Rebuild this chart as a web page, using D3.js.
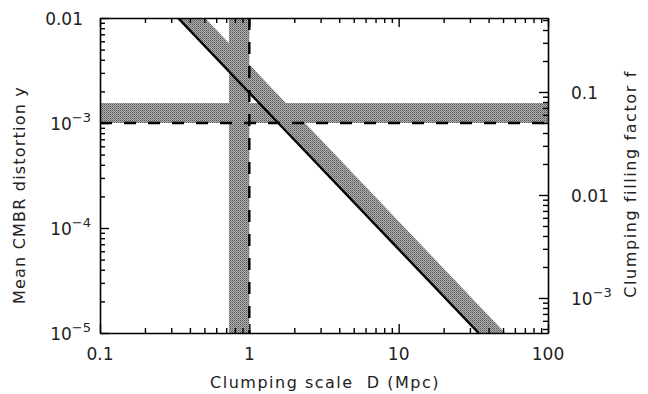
<!DOCTYPE html>
<html>
<head>
<meta charset="utf-8">
<title>Clumping scale vs CMBR distortion</title>
<script src="https://d3js.org/d3.v7.min.js"></script>
<style>
  body { margin: 0; background: #fff; }
  svg text { font-family: "DejaVu Sans", "Liberation Sans", sans-serif; fill: #222; }
</style>
</head>
<body>
<div id="chart"></div>
<script>
// axis ranges
var xDomain = [0.1, 100];
var yDomain = [1e-5, 0.01];
var fDomain = [4.57e-4, 0.523];

// tick labels
var xTicks = [0.1, 1, 10, 100];
var xTickLabels = ["0.1", "1", "10", "100"];
var yTicks = [0.01, 1e-3, 1e-4, 1e-5];
var yTickLabels = [["0.01", ""], ["10", "\u22123"], ["10", "\u22124"], ["10", "\u22125"]];
var fTicks = [0.1, 0.01, 1e-3];
var fTickLabels = [["0.1", ""], ["0.01", ""], ["10", "\u22123"]];

// constraint bands
var yBand = [1e-3, 1.55e-3];          // horizontal band, dashed at lower edge
var dBand = [0.73, 1.0];              // vertical band, dashed at right edge
var diagLine = [[0.333, 0.01], [34.3, 1e-5]];   // solid line
var diagEdge = [[0.505, 0.01], [51.6, 1e-5]];   // far edge of diagonal band

var width = 648, height = 394;
var pL = 100, pR = 548, pT = 18, pB = 333;

var svg = d3.select("#chart").append("svg")
  .attr("width", width)
  .attr("height", height);

var x = d3.scaleLog().domain(xDomain).range([pL, pR]);
var y = d3.scaleLog().domain(yDomain).range([pB, pT]);
var yf = d3.scaleLog().domain(fDomain).range([pB, pT]);

var defs = svg.append("defs");
defs.append("clipPath").attr("id", "clip")
  .append("rect")
  .attr("x", pL).attr("y", pT)
  .attr("width", pR - pL).attr("height", pB - pT);

// halftone-ish shading like the printed figure
var pat = defs.append("pattern").attr("id", "dots")
  .attr("width", 2).attr("height", 2)
  .attr("patternUnits", "userSpaceOnUse");
pat.append("rect").attr("width", 2).attr("height", 2).attr("fill", "#b2b2b2");
pat.append("rect").attr("width", 1).attr("height", 1).attr("fill", "#555");
pat.append("rect").attr("x", 1).attr("y", 1).attr("width", 1).attr("height", 1).attr("fill", "#7a7a7a");

var shade = "url(#dots)";
var g = svg.append("g").attr("clip-path", "url(#clip)");

// horizontal band
g.append("rect")
  .attr("x", x(xDomain[0]))
  .attr("y", y(yBand[1]))
  .attr("width", x(xDomain[1]) - x(xDomain[0]))
  .attr("height", y(yBand[0]) - y(yBand[1]))
  .attr("fill", shade);

// vertical band
g.append("rect")
  .attr("x", x(dBand[0]))
  .attr("y", y(yDomain[1]))
  .attr("width", x(dBand[1]) - x(dBand[0]))
  .attr("height", y(yDomain[0]) - y(yDomain[1]))
  .attr("fill", shade);

// diagonal band
var line = d3.line().x(function(d) { return x(d[0]); }).y(function(d) { return y(d[1]); });
var poly = diagLine.concat(diagEdge.slice().reverse());
g.append("path")
  .attr("d", line(poly) + "Z")
  .attr("fill", shade);

g.append("path")
  .attr("d", line(diagLine))
  .attr("fill", "none")
  .attr("stroke", "#000")
  .attr("stroke-width", 2.4);

// dashed lines
g.append("line")
  .attr("x1", x(xDomain[0])).attr("x2", x(xDomain[1]))
  .attr("y1", y(yBand[0])).attr("y2", y(yBand[0]))
  .attr("stroke", "#000").attr("stroke-width", 2.4)
  .attr("stroke-dasharray", "12,12");

g.append("line")
  .attr("x1", x(dBand[1])).attr("x2", x(dBand[1]))
  .attr("y1", y(yDomain[1])).attr("y2", y(yDomain[0]))
  .attr("stroke", "#000").attr("stroke-width", 2.4)
  .attr("stroke-dasharray", "12,12");

// minor tick positions for a log domain
function logMinor(domain) {
  var out = [];
  var lo = Math.floor(Math.log10(domain[0])), hi = Math.ceil(Math.log10(domain[1]));
  for (var e = lo; e < hi; e++) {
    for (var m = 2; m <= 9; m++) {
      var v = m * Math.pow(10, e);
      if (v > domain[0] && v < domain[1]) out.push(v);
    }
  }
  return out;
}

function drawAxis(axisFn, scale, pos, major, minor, majorLen, minorLen) {
  svg.append("g").attr("transform", pos)
    .call(axisFn(scale).tickValues(minor).tickSize(minorLen).tickFormat(""))
    .call(function(s) { s.select(".domain").remove(); });
  svg.append("g").attr("transform", pos)
    .call(axisFn(scale).tickValues(major).tickSize(majorLen).tickSizeOuter(0).tickFormat(""))
    .call(function(s) { s.select(".domain").attr("stroke-width", 1.6); });
}

var xMinor = logMinor(xDomain), yMinor = logMinor(yDomain), fMinor = logMinor(fDomain);
drawAxis(d3.axisTop, x, "translate(0," + pB + ")", xTicks, xMinor, 9, 5);
drawAxis(d3.axisBottom, x, "translate(0," + pT + ")", xTicks, xMinor, 9, 5);
drawAxis(d3.axisRight, y, "translate(" + pL + ",0)", yTicks, yMinor, 9, 5);
drawAxis(d3.axisLeft, yf, "translate(" + pR + ",0)", fTicks, fMinor, 9, 5);
svg.selectAll(".tick line").attr("stroke-width", 1.4);

// x tick labels
svg.selectAll(".xlab").data(xTicks).enter().append("text")
  .attr("x", function(d) { return x(d); })
  .attr("y", pB + 27)
  .attr("text-anchor", "middle")
  .attr("font-size", 17)
  .text(function(d, i) { return xTickLabels[i]; });

function expLabels(ticks, labels, scale, xpos, anchor) {
  ticks.forEach(function(t, i) {
    var hasExp = !!labels[i][1];
    var txt = svg.append("text")
      .attr("x", anchor === "end" && hasExp ? xpos + 8 : xpos)
      .attr("y", scale(t) + 7)
      .attr("text-anchor", anchor)
      .attr("font-size", 17);
    txt.append("tspan").text(labels[i][0]);
    if (hasExp) {
      txt.append("tspan").attr("dy", -8).attr("font-size", 13).text(labels[i][1]);
    }
  });
}
expLabels(yTicks, yTickLabels, y, 83, "end");
expLabels(fTicks, fTickLabels, yf, 571, "start");

// axis titles
svg.append("text")
  .attr("x", 325).attr("y", 388)
  .attr("text-anchor", "middle")
  .attr("font-size", 16)
  .attr("letter-spacing", 1.5)
  .attr("xml:space", "preserve")
  .text("Clumping scale  D (Mpc)");

svg.append("text")
  .attr("transform", "translate(25,195) rotate(-90)")
  .attr("text-anchor", "middle")
  .attr("font-size", 16)
  .attr("letter-spacing", 1.2)
  .text("Mean CMBR distortion y");

svg.append("text")
  .attr("transform", "translate(636,184) rotate(-90)")
  .attr("text-anchor", "middle")
  .attr("font-size", 16)
  .attr("letter-spacing", 1.6)
  .text("Clumping filling factor f");
</script>
</body>
</html>
